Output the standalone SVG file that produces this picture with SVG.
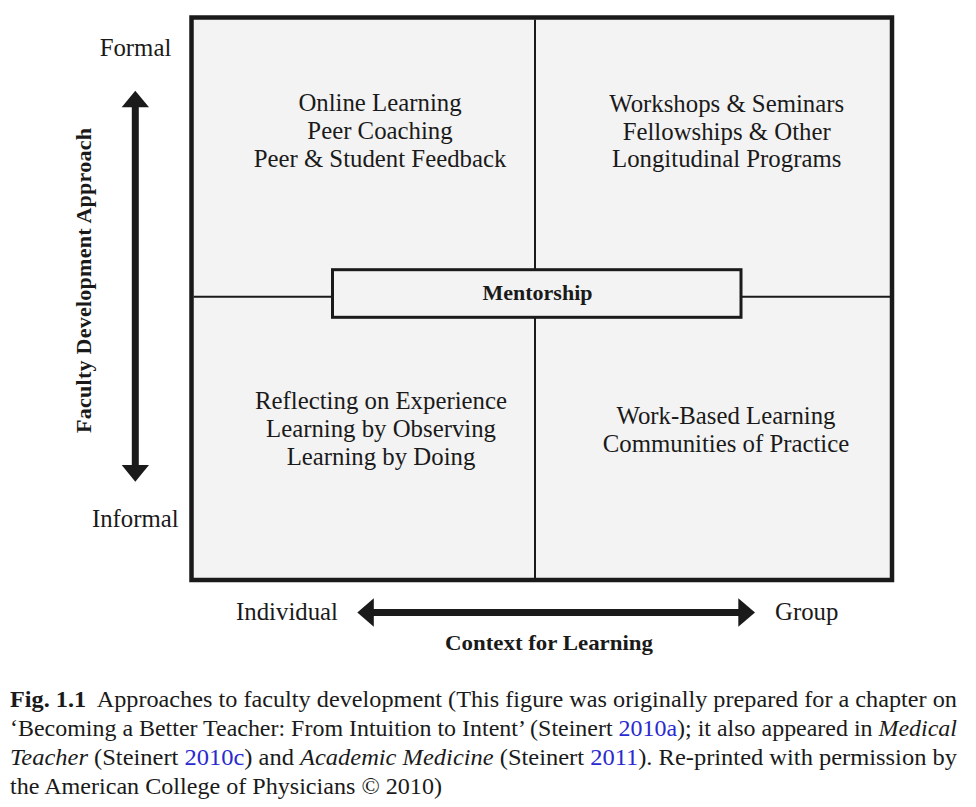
<svg xmlns="http://www.w3.org/2000/svg" width="976" height="807" viewBox="0 0 976 807">
  <style>
    .q { font-family: "Liberation Serif", "Times New Roman", serif; font-size: 24.8px; fill: #1a1a1a; text-anchor: middle; }
    .lab { font-family: "Liberation Serif", "Times New Roman", serif; font-size: 24.8px; fill: #1a1a1a; }
    .b { font-family: "Liberation Serif", "Times New Roman", serif; font-size: 22px; font-weight: bold; fill: #1a1a1a; }
    .cap { font-family: "Liberation Serif", "Times New Roman", serif; font-size: 23px; fill: #1a1a1a; }
    .lnk { fill: #2a2ad0; }
    .it { font-style: italic; }
    .arrowline { stroke: #1a1a1a; stroke-width: 7; fill: none; }
    .head { fill: #1a1a1a; }
  </style>
  <rect width="976" height="807" fill="#ffffff"/>

  <g id="frame">
    <rect x="191.5" y="17.5" width="700.5" height="562.5" fill="#f3f3f3" stroke="#1a1a1a" stroke-width="4.5"/>
  </g>

  <g id="connectors">
    <line x1="535" y1="19.5" x2="535" y2="578" stroke="#1a1a1a" stroke-width="2"/>
    <line x1="193.5" y1="296.8" x2="890" y2="296.8" stroke="#1a1a1a" stroke-width="2"/>
    <line class="arrowline" x1="135.3" y1="105" x2="135.3" y2="467"/>
    <polygon class="head" points="135.3,90.7 121.7,107.3 149,107.3"/>
    <polygon class="head" points="135.3,481.7 121.7,465 149,465"/>
    <line class="arrowline" x1="371" y1="612.5" x2="740" y2="612.5"/>
    <polygon class="head" points="357.3,612.5 373.8,598.3 373.8,626.7"/>
    <polygon class="head" points="755,612.5 738.3,598.3 738.3,626.7"/>
  </g>

  <g id="q-top-left">
    <text class="q" x="380" y="111">Online Learning</text>
    <text class="q" x="380" y="139">Peer Coaching</text>
    <text class="q" x="380" y="167">Peer &amp; Student Feedback</text>
  </g>
  <g id="q-top-right">
    <text class="q" x="726.7" y="111.5">Workshops &amp; Seminars</text>
    <text class="q" x="726.7" y="139.5">Fellowships &amp; Other</text>
    <text class="q" x="726.7" y="167.3">Longitudinal Programs</text>
  </g>
  <g id="q-bottom-left">
    <text class="q" x="381" y="409.3">Reflecting on Experience</text>
    <text class="q" x="381" y="437.3">Learning by Observing</text>
    <text class="q" x="381" y="465">Learning by Doing</text>
  </g>
  <g id="q-bottom-right">
    <text class="q" x="726" y="423.5">Work-Based Learning</text>
    <text class="q" x="726" y="451.5">Communities of Practice</text>
  </g>

  <g id="mentorship">
    <rect x="332.5" y="269.7" width="408.5" height="47.6" fill="#f3f3f3" stroke="#1a1a1a" stroke-width="3"/>
    <text class="b" x="537.5" y="299.5" text-anchor="middle">Mentorship</text>
  </g>

  <g id="axis-labels">
    <text class="lab" x="135.5" y="56" text-anchor="middle">Formal</text>
    <text class="lab" x="135.3" y="526.7" text-anchor="middle">Informal</text>
    <text class="lab" x="338" y="620" text-anchor="end">Individual</text>
    <text class="lab" x="775" y="620">Group</text>
    <text class="b" x="549" y="650" text-anchor="middle" textLength="208" lengthAdjust="spacingAndGlyphs">Context for Learning</text>
    <text class="b" transform="translate(91,280.5) rotate(-90)" x="0" y="0" text-anchor="middle" textLength="305" lengthAdjust="spacing">Faculty Development Approach</text>
  </g>

  <g id="caption">
    <text class="cap" x="10" y="707" textLength="947" lengthAdjust="spacingAndGlyphs"><tspan font-weight="bold">Fig. 1.1</tspan><tspan dx="10">Approaches to faculty development (This figure was originally prepared for a chapter on</tspan></text>
    <text class="cap" x="10" y="736" textLength="947" lengthAdjust="spacingAndGlyphs">‘Becoming a Better Teacher: From Intuition to Intent’ (Steinert <tspan class="lnk">2010a</tspan>); it also appeared in <tspan class="it">Medical</tspan></text>
    <text class="cap" x="10" y="765" textLength="947" lengthAdjust="spacingAndGlyphs"><tspan class="it">Teacher</tspan> (Steinert <tspan class="lnk">2010c</tspan>) and <tspan class="it">Academic Medicine</tspan> (Steinert <tspan class="lnk">2011</tspan>). Re-printed with permission by</text>
    <text class="cap" x="10" y="794" textLength="432" lengthAdjust="spacingAndGlyphs">the American College of Physicians © 2010)</text>
  </g>
</svg>
